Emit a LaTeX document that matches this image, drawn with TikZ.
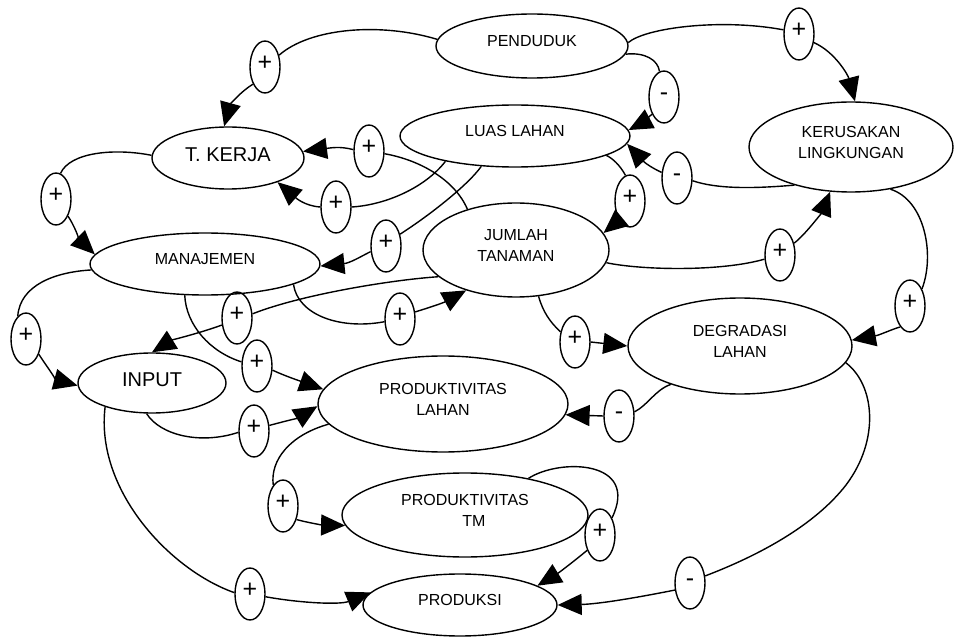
\documentclass[tikz,border=0pt]{standalone}
\usepackage{fontspec}
\setmainfont{Liberation Sans}
\usetikzlibrary{shapes.geometric,arrows.meta}
\begin{document}
\begin{tikzpicture}[x=1pt,y=-1pt,
  var/.style={ellipse,draw,line width=1.4pt,inner sep=0pt,align=center,
    font=\fontsize{16}{21}\selectfont,text depth=10pt},
  bigvar/.style={var,font=\fontsize{20}{24}\selectfont,text depth=6pt},
  sgn/.style={ellipse,draw,line width=1.4pt,inner sep=0pt,
    minimum width=30pt,minimum height=52pt,
    font=\fontsize{25}{25}\selectfont,text height=0.62em,text depth=0pt},
  link/.style={line width=1.4pt},
  arr/.style={link,-{Triangle[length=24pt,width=21pt]}}]
\useasboundingbox (0,0) rectangle (954,639);

% variables
\node[var,minimum width=192pt,minimum height=64pt] (pend) at (532,46) {PENDUDUK};
\node[var,minimum width=230pt,minimum height=62pt] (luas) at (515,136) {LUAS LAHAN};
\node[bigvar,minimum width=152pt,minimum height=62pt] (tk) at (228,158) {T. KERJA};
\node[var,minimum width=204pt,minimum height=90pt] (kl) at (851,147) {KERUSAKAN\\LINGKUNGAN};
\node[var,minimum width=230pt,minimum height=62pt] (man) at (205,264) {MANAJEMEN};
\node[var,minimum width=186pt,minimum height=94pt] (jt) at (516,250) {JUMLAH\\TANAMAN};
\node[bigvar,minimum width=148pt,minimum height=60pt] (inp) at (152,383) {INPUT};
\node[var,minimum width=250pt,minimum height=96pt] (pl) at (443,404) {PRODUKTIVITAS\\LAHAN};
\node[var,minimum width=224pt,minimum height=96pt] (dl) at (740,346) {DEGRADASI\\LAHAN};
\node[var,minimum width=246pt,minimum height=84pt] (ptm) at (465,515) {PRODUKTIVITAS\\\hspace*{18pt}TM};
\node[var,minimum width=194pt,minimum height=62pt] (prod) at (460,605) {PRODUKSI};

% polarity markers
\node[sgn] (s1)  at (265,67)  {+};
\node[sgn] (s2)  at (799,34)  {+};
\node[sgn] (s3)  at (664,97)  {-};
\node[sgn] (s4)  at (677,178) {-};
\node[sgn] (s5)  at (630,201) {+};
\node[sgn] (s6)  at (780,255) {+};
\node[sgn] (s7)  at (910,306) {+};
\node[sgn] (s8)  at (369,151) {+};
\node[sgn] (s9)  at (336,207) {+};
\node[sgn] (s10) at (386,246) {+};
\node[sgn] (s11) at (56,199)  {+};
\node[sgn] (s12) at (26,339)  {+};
\node[sgn] (s13) at (237,318) {+};
\node[sgn] (s14) at (400,319) {+};
\node[sgn] (s15) at (257,366) {+};
\node[sgn] (s16) at (254,431) {+};
\node[sgn] (s17) at (283,506) {+};
\node[sgn] (s18) at (250,594) {+};
\node[sgn] (s19) at (575,342) {+};
\node[sgn] (s20) at (619,416) {-};
\node[sgn] (s21) at (600,535) {+};
\node[sgn] (s22) at (690,583) {-};

% PENDUDUK -> T. KERJA
\draw[link] (pend.176) .. controls (380,22) and (310,28) .. (s1.40);
\draw[arr] (s1.235) .. controls (240,92) and (230,105) .. (tk.97);
% PENDUDUK -> KERUSAKAN LINGKUNGAN
\draw[link] (pend.2) .. controls (645,28) and (720,18) .. (s2.165);
\draw[arr] (s2.-30) .. controls (835,52) and (848,75) .. (kl.85);
% PENDUDUK -> LUAS LAHAN
\draw[link] (pend.-5) .. controls (645,52) and (658,60) .. (s3.100);
\draw[arr] (s3.235) .. controls (648,118) and (640,124) .. (luas.3);
% KERUSAKAN LINGKUNGAN -> LUAS LAHAN
\draw[link] (kl.214) .. controls (760,188) and (720,190) .. (s4.-10);
\draw[arr] (s4.160) .. controls (652,168) and (645,163) .. (luas.-4);
% LUAS LAHAN -> JUMLAH TANAMAN
\draw[link] (luas.-12) .. controls (612,158) and (620,165) .. (s5.100);
\draw[arr] (s5.235) .. controls (615,222) and (612,226) .. (jt.11);
% JUMLAH TANAMAN -> KERUSAKAN LINGKUNGAN
\draw[link] (jt.-8) .. controls (640,270) and (720,272) .. (s6.195);
\draw[arr] (s6.40) .. controls (805,235) and (822,212) .. (kl.-115);
% KERUSAKAN LINGKUNGAN -> DEGRADASI LAHAN
\draw[link] (kl.-47) .. controls (925,200) and (935,255) .. (s7.55);
\draw[arr] (s7.245) .. controls (890,330) and (880,335) .. (dl.3);
% JUMLAH TANAMAN -> T. KERJA
\draw[link] (jt.140) .. controls (455,180) and (420,160) .. (s8.-10);
\draw[arr] (s8.175) .. controls (340,146) and (330,148) .. (tk.5);
% LUAS LAHAN -> T. KERJA
\draw[link] (luas.200) .. controls (425,188) and (385,205) .. (s9.east);
\draw[arr] (s9.west) .. controls (305,206) and (296,198) .. (tk.-26);
% LUAS LAHAN -> MANAJEMEN
\draw[link] (luas.222) .. controls (468,185) and (430,215) .. (s10.40);
\draw[arr] (s10.200) .. controls (360,257) and (350,263) .. (man.-1);
% T. KERJA -> MANAJEMEN
\draw[link] (tk.178) .. controls (115,148) and (70,152) .. (s11.80);
\draw[arr] (s11.-55) .. controls (74,225) and (80,240) .. (man.175);
% MANAJEMEN -> INPUT
\draw[link] (man.183) .. controls (55,272) and (20,285) .. (s12.110);
\draw[arr] (s12.-50) .. controls (45,364) and (57,380) .. (inp.182);
% JUMLAH TANAMAN -> INPUT
\draw[link] (jt.199) .. controls (390,280) and (300,295) .. (s13.15);
\draw[arr] (s13.205) .. controls (200,333) and (172,340) .. (inp.90);
% MANAJEMEN -> JUMLAH TANAMAN
\draw[link] (man.-13) .. controls (298,315) and (340,330) .. (s14.190);
\draw[arr] (s14.25) .. controls (428,308) and (443,303) .. (jt.-141);
% MANAJEMEN -> PRODUKTIVITAS LAHAN
\draw[link] (man.-123) .. controls (186,325) and (210,352) .. (s15.165);
\draw[arr] (s15.-15) .. controls (285,376) and (300,381) .. (pl.173);
% INPUT -> PRODUKTIVITAS LAHAN
\draw[link] (inp.-100) .. controls (160,435) and (200,445) .. (s16.185);
\draw[arr] (s16.20) .. controls (282,422) and (298,418) .. (pl.181);
% PRODUKTIVITAS LAHAN -> PRODUKTIVITAS TM
\draw[link] (pl.190) .. controls (290,435) and (270,460) .. (s17.115);
\draw[arr] (s17.-45) .. controls (305,522) and (322,525) .. (ptm.185);
% INPUT -> PRODUKSI
\draw[link] (inp.207) .. controls (95,490) and (170,570) .. (s18.175);
\draw[arr] (s18.-10) .. controls (300,603) and (340,605) .. (prod.172);
% JUMLAH TANAMAN -> DEGRADASI LAHAN
\draw[link] (jt.-64) .. controls (543,312) and (550,322) .. (s19.145);
\draw[arr] (s19.east) -- (dl.west);
% DEGRADASI LAHAN -> PRODUKTIVITAS LAHAN
\draw[link] (dl.209) .. controls (655,390) and (648,405) .. (s20.15);
\draw[arr] (s20.west) -- (pl.-5);
% PRODUKTIVITAS TM -> PRODUKSI
\draw[link] (ptm.30) .. controls (560,458) and (640,460) .. (s21.55);
\draw[arr] (s21.230) .. controls (578,558) and (560,572) .. (prod.14);
% DEGRADASI LAHAN -> PRODUKSI
\draw[link] (dl.-9) .. controls (875,385) and (880,440) .. (846,485)
  .. controls (815,525) and (760,555) .. (s22.25);
\draw[arr] (s22.205) .. controls (640,597) and (600,604) .. (prod.east);
\end{tikzpicture}
\end{document}
